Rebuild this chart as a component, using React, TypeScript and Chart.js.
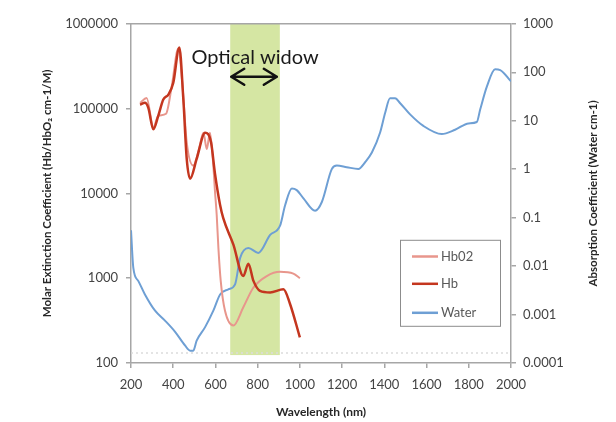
import React, { useEffect, useRef } from "react";
import { Chart, registerables } from "chart.js";
Chart.register(...registerables);

// ---- Data ----
const hbo2Wavelength = [243, 274, 306, 329, 366, 393, 424, 443, 464, 495, 522, 543, 559, 574, 590, 598, 606, 614, 625, 645, 685, 732, 780, 843, 906, 969, 1000];
const hbo2Values = [117000, 133000, 60000, 82000, 87000, 183000, 510000, 200000, 40000, 21300, 33300, 52000, 33300, 52000, 21300, 10400, 5570, 2270, 930, 415, 277, 454, 776, 1060, 1190, 1130, 1000];

const hbWavelength = [243, 266, 282, 306, 329, 353, 377, 400, 429, 448, 464, 480, 511, 551, 579, 598, 622, 637, 685, 732, 756, 780, 811, 859, 922, 953, 1000];
const hbValues = [111000, 117000, 102000, 57000, 82000, 128000, 146000, 200000, 525000, 128000, 25500, 14900, 25500, 52000, 40000, 17000, 7300, 5100, 2490, 1060, 1480, 930, 710, 680, 740, 500, 200];

const waterWavelength = [200, 211, 235, 266, 314, 361, 409, 456, 480, 495, 511, 551, 590, 622, 661, 693, 717, 756, 803, 859, 906, 930, 962, 985, 1017, 1072, 1104, 1151, 1175, 1222, 1277, 1309, 1341, 1380, 1404, 1427, 1451, 1475, 1522, 1585, 1672, 1735, 1799, 1838, 1854, 1886, 1925, 1949, 2000];
const waterValues = [0.055, 0.0092, 0.0049, 0.0026, 0.0012, 0.00075, 0.00044, 0.00023, 0.00018, 0.00018, 0.00029, 0.00055, 0.0012, 0.0026, 0.0033, 0.0042, 0.0148, 0.0237, 0.0187, 0.044, 0.068, 0.18, 0.4, 0.37, 0.25, 0.139, 0.21, 1.0, 1.19, 1.1, 1.01, 1.39, 2.2, 5.7, 14.6, 29, 29, 23, 13.5, 7.8, 5.3, 6.5, 8.8, 9.4, 17, 51, 115, 111, 65];

const baselineWavelength = [200, 2000];
const baselineValues = [131, 131];

const opticalWindow = [670, 905];
const opticalWindowBottom = 124;
const annotationText = "Optical widow";

const xTicks = [200, 400, 600, 800, 1000, 1200, 1400, 1600, 1800, 2000];
const leftTicks = [100, 1000, 10000, 100000, 1000000];
const rightTicks = [0.0001, 0.001, 0.01, 0.1, 1, 10, 100, 1000];

const xTitle = "Wavelength (nm)";
const leftTitle = "Molar Extinction Coefficient (Hb/HbO\u2082 cm-1/M)";
const rightTitle = "Absorption Coefficient (Water cm-1)";

const seriesLabels = ["Hb02", "Hb", "Water"];
const seriesColors = ["#e8968c", "#c4361f", "#6e9fd4"];

const pairs = (xs: number[], ys: number[]) => xs.map((x, i) => ({ x, y: ys[i] }));

const FONT = "Lato, 'Noto Sans', sans-serif";
const AXIS_COLOR = "#a6a6a6";
const TICK_COLOR = "#444444";

const bandPlugin = {
  id: "band",
  beforeDatasetsDraw(chart: any) {
    const { ctx, chartArea, scales } = chart;
    const x0 = scales.x.getPixelForValue(opticalWindow[0]);
    const x1 = scales.x.getPixelForValue(opticalWindow[1]);
    const yb = scales.y.getPixelForValue(opticalWindowBottom);
    ctx.save();
    ctx.fillStyle = "#d5e6a3";
    ctx.fillRect(x0, chartArea.top, x1 - x0, yb - chartArea.top);
    ctx.restore();
  },
};

const decorPlugin = {
  id: "decor",
  afterDraw(chart: any) {
    const { ctx, chartArea, scales } = chart;
    ctx.save();
    // top border
    ctx.strokeStyle = AXIS_COLOR;
    ctx.lineWidth = 1.5;
    ctx.beginPath();
    ctx.moveTo(chartArea.left, chartArea.top);
    ctx.lineTo(chartArea.right, chartArea.top);
    ctx.stroke();

    // annotation text and arrow
    const x0 = scales.x.getPixelForValue(opticalWindow[0]);
    const x1 = scales.x.getPixelForValue(opticalWindow[1]);
    const cx = (x0 + x1) / 2;
    ctx.fillStyle = "#1a1a1a";
    ctx.font = `20px ${FONT}`;
    ctx.textAlign = "center";
    ctx.textBaseline = "alphabetic";
    ctx.fillText(annotationText, cx, chartArea.top + 40);

    const ay = chartArea.top + 53;
    const ax0 = x0 + 1;
    const ax1 = x1 - 3;
    ctx.strokeStyle = "#111";
    ctx.lineWidth = 2.5;
    ctx.lineCap = "round";
    ctx.lineJoin = "round";
    ctx.beginPath();
    ctx.moveTo(ax0, ay);
    ctx.lineTo(ax1, ay);
    ctx.moveTo(ax0 + 13, ay - 8);
    ctx.lineTo(ax0, ay);
    ctx.lineTo(ax0 + 13, ay + 8);
    ctx.moveTo(ax1 - 13, ay - 8);
    ctx.lineTo(ax1, ay);
    ctx.lineTo(ax1 - 13, ay + 8);
    ctx.stroke();

    // right axis title (reads bottom to top)
    const cy = (chartArea.top + chartArea.bottom) / 2;
    ctx.translate(chart.width - 15, cy);
    ctx.rotate(-Math.PI / 2);
    ctx.fillStyle = "#262626";
    ctx.font = `bold 11.5px ${FONT}`;
    ctx.textAlign = "center";
    ctx.textBaseline = "middle";
    ctx.fillText(rightTitle, 0, 0);
    ctx.restore();

    // legend box
    ctx.save();
    const bw = 100, bh = 86;
    const bx = chartArea.right - 11 - bw;
    const by = chartArea.top + 216;
    ctx.fillStyle = "#ffffff";
    ctx.fillRect(bx, by, bw, bh);
    ctx.strokeStyle = "#8c8c8c";
    ctx.lineWidth = 1;
    ctx.strokeRect(bx + 0.5, by + 0.5, bw, bh);
    const rows = [16.7, 44, 73];
    ctx.font = `13px ${FONT}`;
    ctx.textAlign = "left";
    ctx.textBaseline = "middle";
    chart.data.datasets.forEach((ds: any) => {
      const idx = seriesLabels.indexOf(ds.label);
      if (idx < 0) return;
      const ry = by + rows[idx];
      ctx.strokeStyle = ds.borderColor;
      ctx.lineWidth = 2.5;
      ctx.beginPath();
      ctx.moveTo(bx + 12, ry);
      ctx.lineTo(bx + 38, ry);
      ctx.stroke();
      ctx.fillStyle = "#595959";
      ctx.fillText(ds.label, bx + 41, ry + 0.5);
    });
    ctx.restore();
  },
};

export default function App() {
  const ref = useRef<HTMLCanvasElement | null>(null);
  useEffect(() => {
    if (!ref.current) return;
    const tickFont = { family: FONT, size: 13 };
    const chart = new Chart(ref.current, {
      type: "line",
      data: {
        datasets: [
          {
            label: seriesLabels[0],
            data: pairs(hbo2Wavelength, hbo2Values),
            borderColor: seriesColors[0],
            borderWidth: 2,
            pointRadius: 0,
            cubicInterpolationMode: "monotone",
            yAxisID: "y",
            order: 1,
          },
          {
            label: seriesLabels[1],
            data: pairs(hbWavelength, hbValues),
            borderColor: seriesColors[1],
            borderWidth: 2.5,
            pointRadius: 0,
            cubicInterpolationMode: "monotone",
            yAxisID: "y",
            order: 0,
          },
          {
            label: seriesLabels[2],
            data: pairs(waterWavelength, waterValues),
            borderColor: seriesColors[2],
            borderWidth: 2,
            pointRadius: 0,
            cubicInterpolationMode: "monotone",
            yAxisID: "y2",
            order: 2,
          },
          {
            label: "baseline",
            data: pairs(baselineWavelength, baselineValues),
            borderColor: "#dcdcdc",
            borderWidth: 1.5,
            borderDash: [2, 3],
            pointRadius: 0,
            yAxisID: "y",
            order: 3,
          },
        ],
      } as any,
      options: {
        animation: false,
        responsive: false,
        layout: { padding: { top: 12, left: 0, right: 0, bottom: 0 } },
        plugins: { legend: { display: false }, tooltip: { enabled: false } },
        scales: {
          x: {
            type: "linear",
            position: "bottom",
            min: 200,
            max: 2000,
            afterBuildTicks: (s: any) => { s.ticks = xTicks.map((v) => ({ value: v })); },
            afterFit: (s: any) => { s.height = 59; },
            ticks: { font: tickFont, color: TICK_COLOR, padding: 9, maxRotation: 0, autoSkip: false, callback: (v: any) => String(v) },
            grid: { drawOnChartArea: false, tickLength: 5, color: AXIS_COLOR, lineWidth: 1.5 },
            border: { color: AXIS_COLOR, width: 1.5 },
            title: { display: true, text: xTitle, color: "#262626", font: { family: FONT, size: 12, weight: "bold" }, padding: { top: 0, bottom: 3 } },
          },
          y: {
            type: "logarithmic",
            position: "left",
            min: 100,
            max: 1000000,
            afterBuildTicks: (s: any) => { s.ticks = leftTicks.map((v) => ({ value: v })); },
            afterFit: (s: any) => { s.width = 123; },
            ticks: { font: tickFont, color: TICK_COLOR, padding: 8, autoSkip: false, callback: (v: any) => String(v) },
            grid: { drawOnChartArea: false, tickLength: 5, color: AXIS_COLOR, lineWidth: 1.5 },
            border: { color: AXIS_COLOR, width: 1.5 },
            title: { display: true, text: leftTitle, color: "#262626", font: { family: FONT, size: 11.5, weight: "bold" }, padding: { top: 32, bottom: 0 } },
          },
          y2: {
            type: "logarithmic",
            position: "right",
            min: 0.0001,
            max: 1000,
            afterBuildTicks: (s: any) => { s.ticks = rightTicks.map((v) => ({ value: v })); },
            afterFit: (s: any) => { s.width = 97; },
            ticks: { font: tickFont, color: TICK_COLOR, padding: 7, autoSkip: false, callback: (v: any) => String(v) },
            grid: { drawOnChartArea: false, tickLength: 5, color: AXIS_COLOR, lineWidth: 1.5 },
            border: { color: AXIS_COLOR, width: 1.5 },
          },
        },
      } as any,
      plugins: [bandPlugin, decorPlugin],
    });
    return () => chart.destroy();
  }, []);
  return (
    <div style={{ width: 600, height: 414 }}>
      <canvas ref={ref} width={600} height={414} style={{ display: "block" }} />
    </div>
  );
}
